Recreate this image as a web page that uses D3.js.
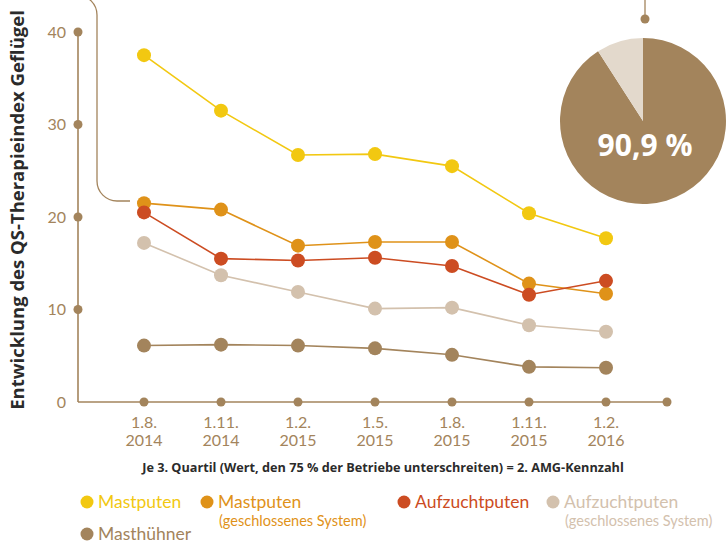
<!DOCTYPE html>
<html><head><meta charset="utf-8">
<script src="https://cdn.jsdelivr.net/npm/d3@7/dist/d3.min.js"></script>
<style>body{margin:0;background:#fff}svg{display:block}</style>
</head><body><svg id="c" width="728" height="544"></svg>
<script>
const dates = ["1.8. 2014","1.11. 2014","1.2. 2015","1.5. 2015","1.8. 2015","1.11. 2015","1.2. 2016"];
const yTicks = [0,10,20,30,40];
const seriesNames = ["Mastputen","Mastputen (geschlossenes System)","Aufzuchtputen","Aufzuchtputen (geschlossenes System)","Masthühner"];
const mastputen = [37.5,31.5,26.7,26.8,25.5,20.4,17.7];
const mastputenGS = [21.5,20.8,16.9,17.3,17.3,12.8,11.7];
const aufzuchtputen = [20.5,15.5,15.3,15.6,14.7,11.6,13.1];
const aufzuchtputenGS = [17.2,13.7,11.9,10.1,10.2,8.3,7.6];
const masthuehner = [6.1,6.2,6.1,5.8,5.1,3.8,3.7];
const pieValues = [90.9, 9.1];
const pieLabel = "90,9 %";
const yTitle = "Entwicklung des QS-Therapieindex Geflügel";
const subtitle = "Je 3. Quartil (Wert, den 75 % der Betriebe unterschreiten) = 2. AMG-Kennzahl";

const colors = ["#f2c811","#df9219","#cc4c22","#d3c1ad","#a3845c"];
const axisColor = "#a3845c";
const series = [mastputen, mastputenGS, aufzuchtputen, aufzuchtputenGS, masthuehner];

const svg = d3.select("#c");
const x = d3.scalePoint().domain(dates).range([144, 606]);
const y = d3.scaleLinear().domain([0,40]).range([402, 32]);
const x0 = 78, xEnd = 667;

// bracket
svg.append("path").attr("d","M77,-5 A20,20 0 0 1 97,15 L97,181 A20,20 0 0 0 117,201 L130,201")
  .attr("fill","none").attr("stroke",axisColor).attr("stroke-width",1.3);

// axes
svg.append("line").attr("x1",x0).attr("x2",x0).attr("y1",y(40)).attr("y2",y(0)).attr("stroke",axisColor).attr("stroke-width",1.6);
svg.append("line").attr("x1",x0).attr("x2",xEnd).attr("y1",y(0)).attr("y2",y(0)).attr("stroke",axisColor).attr("stroke-width",1.6);
svg.selectAll(".ydot").data(yTicks.filter(d=>d>0)).join("circle")
  .attr("cx",x0).attr("cy",d=>y(d)).attr("r",4.5).attr("fill",axisColor);
svg.selectAll(".ylab").data(yTicks).join("text")
  .attr("x",66).attr("y",d=>y(d)+5.5).attr("text-anchor","end")
  .attr("font-family","Lato").attr("font-size",16).attr("fill",axisColor).text(d=>d);
svg.selectAll(".xdot").data(dates).join("circle")
  .attr("cx",d=>x(d)).attr("cy",y(0)).attr("r",4.5).attr("fill",axisColor);
svg.append("circle").attr("cx",xEnd).attr("cy",y(0)).attr("r",4.5).attr("fill",axisColor);
const xl = svg.selectAll(".xlab").data(dates).join("text")
  .attr("text-anchor","middle").attr("font-family","Lato")
  .attr("font-size",16).attr("fill",axisColor);
xl.append("tspan").attr("x",d=>x(d)).attr("y",428).text(d=>d.split(" ")[0]);
xl.append("tspan").attr("x",d=>x(d)).attr("y",446).text(d=>d.split(" ")[1]);

// y title
svg.append("text").attr("transform","translate(24,210) rotate(-90)").attr("text-anchor","middle")
  .attr("font-family","Open Sans").attr("font-weight",700).attr("font-size",18.5).attr("fill","#2b2b2b").text(yTitle);

// subtitle
svg.append("text").attr("x",383).attr("y",472).attr("text-anchor","middle")
  .attr("font-family","Open Sans").attr("font-weight",700).attr("font-size",12.7).attr("fill","#2b2b2b").text(subtitle);

// lines
const line = d3.line().x((d,i)=>x(dates[i])).y(d=>y(d));
series.forEach((s,k)=>{
  svg.append("path").datum(s).attr("d",line).attr("fill","none").attr("stroke",colors[k]).attr("stroke-width",1.6);
});
series.forEach((s,k)=>{
  svg.append("g").selectAll("circle").data(s).join("circle")
    .attr("cx",(d,i)=>x(dates[i])).attr("cy",d=>y(d)).attr("r",7).attr("fill",colors[k]);
});

// pie
const pcx = 643, pcy = 121, pr = 83;
svg.append("line").attr("x1",645).attr("x2",645).attr("y1",0).attr("y2",19).attr("stroke",axisColor).attr("stroke-width",1.3);
svg.append("circle").attr("cx",645).attr("cy",19).attr("r",4.5).attr("fill",axisColor);
const pie = d3.pie().sort(null)(pieValues);
const arc = d3.arc().innerRadius(0).outerRadius(pr);
svg.append("g").attr("transform",`translate(${pcx},${pcy})`).selectAll("path").data(pie).join("path")
  .attr("d",arc).attr("fill",(d,i)=>i===0?"#a3845c":"#e3d9cc");
svg.append("text").attr("x",645).attr("y",156).attr("text-anchor","middle")
  .attr("font-family","Open Sans").attr("font-weight",700).attr("font-size",30).attr("fill","#fff").text(pieLabel);

// legend
const legendPos = [[87,502],[207,502],[404,502],[553,502],[87,534]];
seriesNames.forEach((n,k)=>{
  const [lx,ly] = legendPos[k];
  svg.append("circle").attr("cx",lx).attr("cy",ly).attr("r",6.5).attr("fill",colors[k]);
  const m = n.match(/^(.*?) (\(.*\))$/);
  const main = m ? m[1] : n;
  svg.append("text").attr("x",lx+11).attr("y",ly+6).attr("font-family","Lato").attr("font-size",17.5)
    .attr("fill",colors[k]).text(main);
  if(m){
    svg.append("text").attr("x",lx+12).attr("y",ly+24).attr("font-family","Lato").attr("font-size",14.5)
      .attr("fill",colors[k]).text(m[2]);
  }
});
</script></body></html>
